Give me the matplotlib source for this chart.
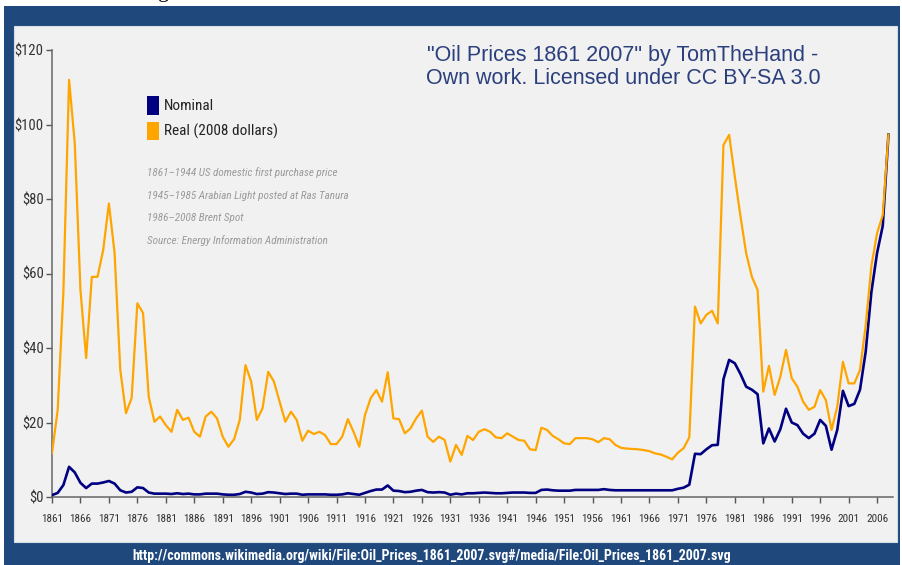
import numpy as np
import matplotlib
matplotlib.use("Agg")
import matplotlib.pyplot as plt
import matplotlib.font_manager as fm
from matplotlib.patches import Rectangle, Patch

# yearly oil prices, 1861-2008 (US$ per barrel)
years = np.arange(1861, 2009)

nominal = [
    0.5, 1.1, 3.2, 8.1, 6.6, 3.8, 2.4, 3.6, 3.6, 3.9,
    4.3, 3.6, 1.8, 1.2, 1.4, 2.6, 2.4, 1.2, 0.9, 0.9,
    0.9, 0.8, 1.0, 0.8, 0.9, 0.7, 0.7, 0.9, 0.9, 0.9,
    0.7, 0.6, 0.6, 0.8, 1.4, 1.2, 0.8, 0.9, 1.3, 1.2,
    1.0, 0.8, 0.9, 0.9, 0.6, 0.7, 0.7, 0.7, 0.7, 0.6,
    0.6, 0.7, 1.0, 0.8, 0.6, 1.1, 1.6, 2.0, 2.0, 3.1,
    1.7, 1.6, 1.3, 1.4, 1.7, 1.9, 1.3, 1.2, 1.3, 1.2,
    0.6, 0.9, 0.7, 1.0, 1.0, 1.1, 1.2, 1.1, 1.0, 1.0,
    1.1, 1.2, 1.2, 1.2, 1.1, 1.1, 1.9, 2.0, 1.8, 1.7,
    1.7, 1.7, 1.9, 1.9, 1.9, 1.9, 1.9, 2.1, 1.9, 1.8,
    1.8, 1.8, 1.8, 1.8, 1.8, 1.8, 1.8, 1.8, 1.8, 1.8,
    2.2, 2.5, 3.3, 11.6, 11.5, 12.8, 13.9, 14.0, 31.6, 36.8,
    35.9, 33.0, 29.6, 28.8, 27.6, 14.4, 18.4, 14.9, 18.2, 23.7,
    20.0, 19.3, 17.0, 15.8, 17.0, 20.7, 19.1, 12.7, 18.0, 28.5,
    24.4, 25.0, 28.8, 39.0, 55.0, 65.5, 72.8, 97.3,
]

real_2008 = [
    11.8, 23.4, 55.0, 112.0, 95.0, 55.6, 37.3, 59.1, 59.1, 66.3,
    78.8, 65.5, 34.1, 22.5, 26.6, 52.0, 49.4, 26.9, 20.2, 21.6,
    19.3, 17.5, 23.4, 20.7, 21.3, 17.5, 16.2, 21.6, 22.9, 21.1,
    16.2, 13.5, 15.5, 20.7, 35.4, 31.0, 20.7, 23.8, 33.6, 31.0,
    25.6, 20.2, 22.9, 20.7, 15.1, 17.8, 16.9, 17.5, 16.6, 14.2,
    14.2, 16.2, 20.9, 17.5, 13.5, 22.0, 26.5, 28.7, 25.6, 33.5,
    21.1, 20.9, 17.1, 18.4, 21.1, 23.2, 16.2, 14.8, 16.2, 15.3,
    9.5, 14.0, 11.3, 16.4, 15.3, 17.5, 18.2, 17.5, 16.0, 15.8,
    17.1, 16.2, 15.3, 15.1, 12.8, 12.6, 18.6, 18.0, 16.4, 15.5,
    14.4, 14.2, 15.8, 15.8, 15.8, 15.5, 14.7, 15.8, 15.5, 14.0,
    13.2, 13.0, 12.9, 12.8, 12.6, 12.3, 11.7, 11.4, 10.8, 10.1,
    11.9, 13.1, 16.0, 51.1, 46.6, 48.9, 50.0, 46.6, 94.5, 97.2,
    86.0, 75.3, 65.4, 59.1, 55.6, 28.3, 35.2, 27.4, 32.3, 39.5,
    31.9, 29.6, 25.6, 23.4, 24.2, 28.7, 26.0, 18.0, 24.2, 36.3,
    30.5, 30.5, 34.1, 46.0, 62.0, 70.8, 75.7, 97.3,
]

xtick_years = list(range(1861, 2007, 5))
ytick_values = [0, 20, 40, 60, 80, 100, 120]
ytick_labels = ["$%d" % v for v in ytick_values]

series_labels = ["Nominal", "Real (2008 dollars)"]
notes = [
    "1861\u20131944 US domestic first purchase price",
    "1945\u20131985 Arabian Light posted at Ras Tanura",
    "1986\u20132008 Brent Spot",
    "Source: Energy Information Administration",
]
title_lines = [
    "\"Oil Prices 1861 2007\" by TomTheHand -",
    "Own work. Licensed under CC BY-SA 3.0",
]
source_url = "http://commons.wikimedia.org/wiki/File:Oil_Prices_1861_2007.svg#/media/File:Oil_Prices_1861_2007.svg"

NOMINAL_COLOR = "#000080"
REAL_COLOR = "#ffa500"
FRAME_BLUE = "#1f497d"
PANEL = "#f1f1f1"

W, H = 902, 565


def px(x, y):
    # pixel position (from top-left) -> figure fraction
    return x / W, 1 - y / H


# pick a condensed font if one is installed
installed = {f.name for f in fm.fontManager.ttflist}
narrow = "DejaVu Sans"
for cand in ["Liberation Sans Narrow", "Roboto Condensed", "Open Sans Condensed"]:
    if cand in installed:
        narrow = cand
        break
narrow_kw = dict(family=narrow, stretch="condensed")

fig = plt.figure(figsize=(W / 100, H / 100), dpi=100, facecolor="white")

# blue frame and light panel behind the chart
fig.add_artist(Rectangle(px(4, 565), 896 / W, 559 / H, transform=fig.transFigure,
                         facecolor=FRAME_BLUE, edgecolor="none", zorder=0))
fig.add_artist(Rectangle(px(14, 542), 883 / W, 516 / H, transform=fig.transFigure,
                         facecolor=PANEL, edgecolor="#d5dde8", linewidth=0.8, zorder=0))

# descender of cut-off text above the frame
fig.text(158 / W, 1 + 3 / H, "g", family="Liberation Serif", fontsize=16,
         color="black", ha="left", va="baseline")

left, right, top, bottom = 52, 893, 50, 497
ax = fig.add_axes([left / W, 1 - bottom / H, (right - left) / W, (bottom - top) / H])
ax.set_facecolor("none")

ax.plot(years, nominal, color=NOMINAL_COLOR, linewidth=1.9, zorder=3,
        solid_joinstyle="round")
ax.plot(years, real_2008, color=REAL_COLOR, linewidth=1.6, zorder=4,
        solid_joinstyle="round")

ax.set_xlim(1861, 2008.8)
ax.set_ylim(0, 120)
ax.set_xticks(xtick_years)
ax.set_xticklabels([str(y) for y in xtick_years], **narrow_kw)
ax.set_yticks(ytick_values)
ax.set_yticklabels(ytick_labels, **narrow_kw)
ax.tick_params(axis="x", direction="out", length=4, width=1, colors="#555555",
               labelsize=8, labelcolor="#333333", pad=8)
ax.tick_params(axis="y", direction="out", length=4, width=1, colors="#555555",
               labelsize=10.5, labelcolor="#333333", pad=2)

for side in ["top", "right"]:
    ax.spines[side].set_visible(False)
for side in ["left", "bottom"]:
    ax.spines[side].set_color("#666666")
    ax.spines[side].set_linewidth(1.1)

# legend with tall colour blocks
handles = [Patch(facecolor=NOMINAL_COLOR, edgecolor="none"),
           Patch(facecolor=REAL_COLOR, edgecolor="none")]
leg = ax.legend(handles, series_labels, loc="upper left",
                bbox_to_anchor=((147 - left) / (right - left), (bottom - 96) / (bottom - top)),
                frameon=False, borderpad=0, borderaxespad=0,
                handlelength=0.8, handleheight=1.5, handletextpad=0.3,
                labelspacing=0.45, prop=fm.FontProperties(family=narrow, stretch="condensed", size=11))
for t in leg.get_texts():
    t.set_color("#222222")

# data source notes
for i, line in enumerate(notes):
    fig.text(*px(147, 173 + i * 22.5), line, color="#9a9a9a", fontsize=8,
             style="italic", ha="left", va="center", **narrow_kw)

# attribution title
for i, line in enumerate(title_lines):
    fig.text(*px(623, 56 + i * 23), line, color="#2b3f7c", fontsize=15.5,
             family="Liberation Sans", ha="center", va="center")

# url under the panel
fig.text(*px(432, 556), source_url, color="white", fontsize=10, fontweight="bold",
         ha="center", va="center", **narrow_kw)

fig.savefig("out.png", dpi=100, facecolor=fig.get_facecolor())
